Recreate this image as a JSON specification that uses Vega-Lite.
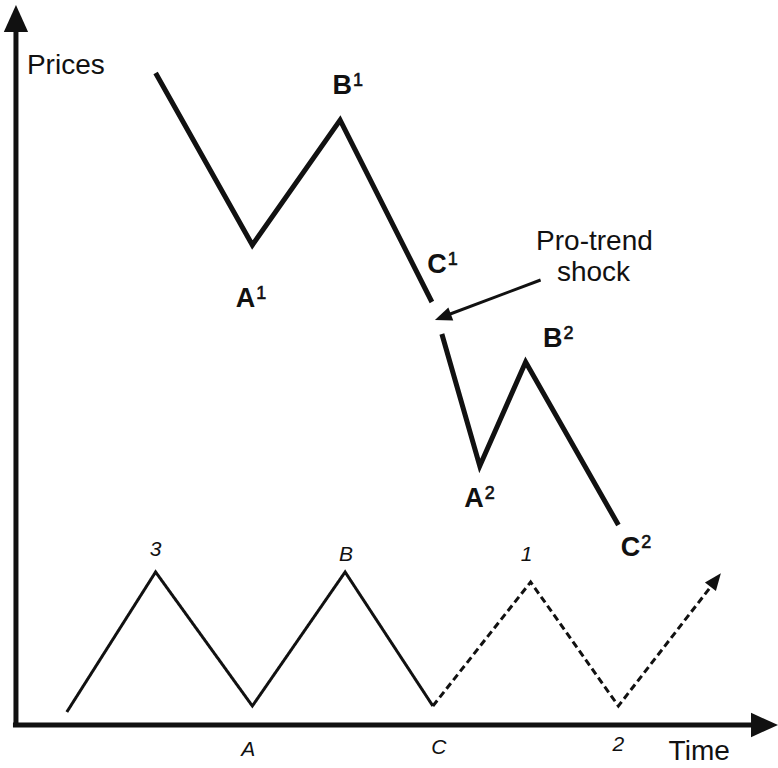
{
  "$schema": "https://vega.github.io/schema/vega-lite/v6.json",
  "width": 778,
  "height": 768,
  "padding": 0,
  "autosize": {"type": "fit", "contains": "padding"},
  "config": {"view": {"stroke": null}},
  "background": "white",
  "datasets": {
    "axes": [
      {"seg": "v", "o": 0, "x": 16, "y": 725},
      {"seg": "v", "o": 1, "x": 16, "y": 20},
      {"seg": "h", "o": 0, "x": 13, "y": 725},
      {"seg": "h", "o": 1, "x": 766, "y": 725}
    ],
    "upper": [
      {"seg": "s1", "o": 0, "x": 156, "y": 73},
      {"seg": "s1", "o": 1, "x": 253, "y": 245},
      {"seg": "s1", "o": 2, "x": 341, "y": 120},
      {"seg": "s1", "o": 3, "x": 433, "y": 302},
      {"seg": "s2", "o": 0, "x": 443, "y": 334},
      {"seg": "s2", "o": 1, "x": 481, "y": 466},
      {"seg": "s2", "o": 2, "x": 527, "y": 362},
      {"seg": "s2", "o": 3, "x": 620, "y": 525}
    ],
    "lower": [
      {"style": "solid", "o": 0, "x": 67, "y": 712},
      {"style": "solid", "o": 1, "x": 156, "y": 572},
      {"style": "solid", "o": 2, "x": 253, "y": 706},
      {"style": "solid", "o": 3, "x": 346, "y": 572},
      {"style": "solid", "o": 4, "x": 434, "y": 706},
      {"style": "dashed", "o": 0, "x": 434, "y": 706},
      {"style": "dashed", "o": 1, "x": 532, "y": 582},
      {"style": "dashed", "o": 2, "x": 620, "y": 706},
      {"style": "dashed", "o": 3, "x": 717, "y": 581}
    ],
    "shock": [
      {"o": 0, "x": 542, "y": 280},
      {"o": 1, "x": 446, "y": 316}
    ],
    "bigheads": [
      {"x": 16, "y": 18.5, "heading": 0},
      {"x": 766.5, "y": 725, "heading": 90}
    ],
    "smallheads": [
      {"x": 717.5, "y": 580, "heading": 38},
      {"x": 444, "y": 317, "heading": 249.5}
    ],
    "boldlabels": [
      {"letter": "A", "sup": "1", "x": 256, "y": 299},
      {"letter": "B", "sup": "1", "x": 353, "y": 86},
      {"letter": "C", "sup": "1", "x": 448, "y": 265},
      {"letter": "A", "sup": "2", "x": 485, "y": 499},
      {"letter": "B", "sup": "2", "x": 564, "y": 339},
      {"letter": "C", "sup": "2", "x": 642, "y": 548}
    ],
    "plainlabels": [
      {"label": "Prices", "x": 66, "y": 66},
      {"label": "Time", "x": 701, "y": 752},
      {"label": "Pro-trend", "x": 596, "y": 242},
      {"label": "shock", "x": 595, "y": 273}
    ],
    "italiclabels": [
      {"label": "3", "x": 156, "y": 550},
      {"label": "B", "x": 347, "y": 555},
      {"label": "1", "x": 528, "y": 555},
      {"label": "A", "x": 249, "y": 750},
      {"label": "C", "x": 440, "y": 748},
      {"label": "2", "x": 620, "y": 745}
    ]
  },
  "encoding": {
    "x": {"field": "x", "type": "quantitative", "scale": {"domain": [0, 778], "nice": false, "zero": false}, "axis": null},
    "y": {"field": "y", "type": "quantitative", "scale": {"domain": [0, 768], "nice": false, "zero": false, "reverse": true}, "axis": null}
  },
  "layer": [
    {
      "data": {"name": "axes"},
      "mark": {"type": "line", "color": "#111", "strokeWidth": 5, "strokeCap": "butt"},
      "encoding": {"detail": {"field": "seg"}, "order": {"field": "o"}}
    },
    {
      "data": {"name": "upper"},
      "mark": {"type": "line", "color": "#111", "strokeWidth": 5, "strokeJoin": "miter", "strokeCap": "butt"},
      "encoding": {"detail": {"field": "seg"}, "order": {"field": "o"}}
    },
    {
      "data": {"name": "lower"},
      "mark": {"type": "line", "color": "#111", "strokeWidth": 3, "strokeJoin": "miter", "strokeCap": "butt"},
      "encoding": {
        "detail": {"field": "style"},
        "order": {"field": "o"},
        "strokeDash": {"field": "style", "type": "nominal", "scale": {"domain": ["solid", "dashed"], "range": [[1, 0], [7, 4]]}, "legend": null}
      }
    },
    {
      "data": {"name": "shock"},
      "mark": {"type": "line", "color": "#111", "strokeWidth": 3},
      "encoding": {"order": {"field": "o"}}
    },
    {
      "data": {"name": "bigheads"},
      "mark": {"type": "point", "shape": "M0,-1L0.9,1L-0.9,1Z", "size": 729, "filled": true, "color": "#111", "opacity": 1},
      "encoding": {"angle": {"field": "heading", "type": "quantitative", "scale": null}}
    },
    {
      "data": {"name": "smallheads"},
      "mark": {"type": "point", "shape": "M0,-1L0.82,1L-0.82,1Z", "size": 289, "filled": true, "color": "#111", "opacity": 1},
      "encoding": {"angle": {"field": "heading", "type": "quantitative", "scale": null}}
    },
    {
      "data": {"name": "boldlabels"},
      "mark": {"type": "text", "font": "Liberation Sans", "fontSize": 27, "fontWeight": "bold", "color": "#111", "align": "right", "baseline": "middle"},
      "encoding": {"text": {"field": "letter"}}
    },
    {
      "data": {"name": "boldlabels"},
      "mark": {"type": "text", "font": "Liberation Sans", "fontSize": 18, "color": "#111", "align": "left", "baseline": "middle", "dx": 1, "dy": -5, "stroke": "#111", "strokeWidth": 0.6},
      "encoding": {"text": {"field": "sup"}}
    },
    {
      "data": {"name": "plainlabels"},
      "mark": {"type": "text", "font": "Liberation Sans", "fontSize": 28, "color": "#111", "align": "center", "baseline": "middle"},
      "encoding": {"text": {"field": "label"}}
    },
    {
      "data": {"name": "italiclabels"},
      "mark": {"type": "text", "font": "Liberation Sans", "fontSize": 21, "fontStyle": "italic", "color": "#111", "align": "center", "baseline": "middle"},
      "encoding": {"text": {"field": "label"}}
    }
  ]
}
